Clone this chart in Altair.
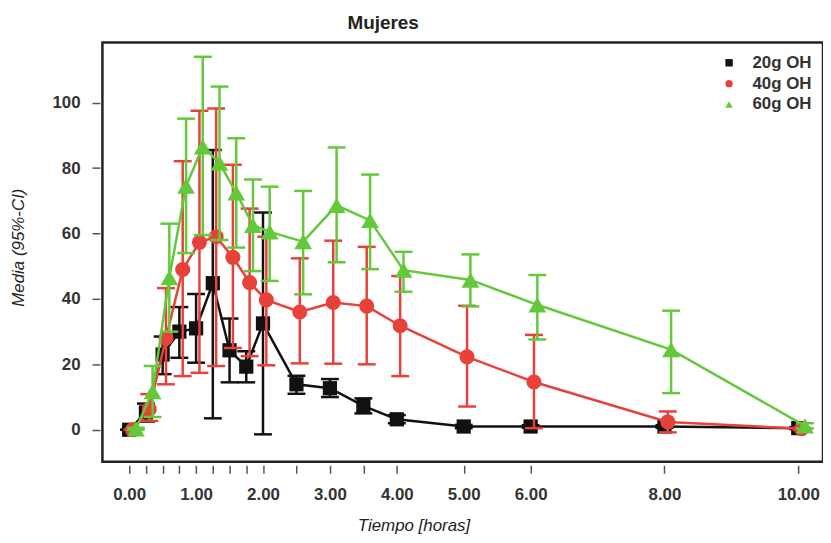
import altair as alt
import pandas as pd

# ---- data ----
times = [0, 0.25, 0.5, 0.75, 1.0, 1.25, 1.5, 1.75, 2.0, 2.5, 3.0, 3.5, 4.0, 5.0, 6.0, 8.0, 10.0]
groups = ["20g OH", "40g OH", "60g OH"]

mean_20 = [0, 5.3, 23, 30, 31, 44.8, 24.3, 19.3, 32.5, 13.9, 12.7, 7.3, 3.2, 1.0, 1.0, 1.0, 0.5]
low_20 = [0, 2.5, 17, 22, 20.5, 3.5, 14.5, 14.5, -1.4, 11, 10, 5, 2, 0.5, 0.6, 0.6, 0.2]
high_20 = [0, 8, 28.5, 37.5, 41.5, 85.5, 34, 24, 66.4, 16.5, 15.5, 9.6, 4.5, 1.5, 1.4, 1.4, 0.8]

mean_40 = [0, 6.3, 28, 49, 57.3, 59, 52.7, 45, 39.7, 36, 38.9, 37.8, 31.8, 22.3, 14.6, 2.4, 0.3]
low_40 = [0, 2.7, 13.9, 16.4, 17.4, 19.5, 25, 22.5, 19.7, 20.3, 20.2, 20, 16.4, 7.1, 0.5, -0.8, 0]
high_40 = [0, 10.9, 43.3, 82.1, 97.5, 98.2, 81, 67.6, 59, 52.4, 57.8, 55.9, 47, 37.9, 29, 5.6, 0.6]

mean_60 = [0.3, 11.7, 46.5, 74.5, 86.5, 81.5, 72.4, 62.5, 60.5, 57.5, 68.6, 64, 48.8, 45.8, 38.2, 24.5, 1.2]
low_60 = [0, 3.9, 30, 54, 59.5, 58, 55.7, 48.5, 45.5, 41.4, 51.2, 49.1, 42.2, 37.7, 27.6, 11.2, 0.4]
high_60 = [0.6, 19.5, 63, 95.1, 114, 104.9, 89.1, 76.5, 74.3, 73, 86.3, 78, 54.4, 53.6, 47.3, 36.4, 2.0]

label_times = [0, 1, 2, 3, 4, 5, 6, 8, 10]
y_ticks = [0, 20, 40, 60, 80, 100]

# ---- styling ----
colors = ["#111111", "#E8413A", "#63C93A"]
shapes = ["square", "circle", "triangle-up"]
sizes = [205, 230, 320]
dodge = [0.0, 0.05, 0.1]  # small horizontal dodge per group (hours)
FONT = "Liberation Sans"

series = [(mean_20, low_20, high_20), (mean_40, low_40, high_40), (mean_60, low_60, high_60)]
rows = []
for g, (m, lo, hi), off in zip(groups, series, dodge):
    for t, a, b, c in zip(times, m, lo, hi):
        rows.append({"grupo": g, "t": t, "tx": t + off, "media": a, "lo": b, "hi": c})
df = pd.DataFrame(rows)

label_list = ",".join(str(v) for v in label_times)
x_axis = alt.Axis(
    values=times, labelExpr=f"indexof([{label_list}], datum.value) >= 0 ? format(datum.value, '.2f') : ''",
    tickSize=8, tickWidth=1.5, tickColor="#555555", domain=False, grid=False, offset=3.5,
    labelFontSize=17, labelFontWeight="bold", labelColor="#333333", labelPadding=13,
    labelOverlap=False, labelFlush=False, labelBound=False,
    title="Tiempo [horas]", titleFontSize=17, titleFontStyle="italic", titleFontWeight="normal",
    titleColor="#222222", titleX=313, titleY=66, titleAlign="center", titleBaseline="alphabetic",
)
y_axis = alt.Axis(
    values=y_ticks, tickSize=8, tickWidth=1.5, tickColor="#555555", domain=False, grid=False, offset=2.5,
    labelFontSize=17, labelFontWeight="bold", labelColor="#333333", labelPadding=12,
    title="Media (95%-CI)", titleFontSize=17, titleFontStyle="italic", titleFontWeight="normal",
    titleColor="#222222", titleX=-77, titleY=206, titleAngle=270, titleAlign="center",
    titleBaseline="alphabetic",
)
xs = alt.Scale(domain=[-0.4, 10.37], nice=False, zero=False)
ys = alt.Scale(domain=[-9.8, 118.4], nice=False, zero=False)

def X():
    return alt.X("tx:Q", scale=xs, axis=x_axis)

def Y(field):
    return alt.Y(f"{field}:Q", scale=ys, axis=y_axis)

layers = []
for i, g in enumerate(groups):
    base = alt.Chart(df).transform_filter(alt.datum.grupo == g)
    rule = base.mark_rule(strokeWidth=2.5, color=colors[i]).encode(x=X(), y=Y("lo"), y2="hi:Q")
    cap_lo = base.mark_tick(orient="horizontal", size=18, thickness=2.5, color=colors[i], opacity=1).encode(
        x=X(), y=Y("lo"))
    cap_hi = base.mark_tick(orient="horizontal", size=18, thickness=2.5, color=colors[i], opacity=1).encode(
        x=X(), y=Y("hi"))
    line = base.mark_line(strokeWidth=2.5, color=colors[i]).encode(x=X(), y=Y("media"), order="t:Q")
    pts = base.mark_point(filled=True, opacity=1, size=sizes[i], strokeWidth=0).encode(
        x=X(), y=Y("media"),
        color=alt.Color("grupo:N", scale=alt.Scale(domain=groups, range=colors), title=None,
                        legend=alt.Legend(orient="none", legendX=622, legendY=12, symbolSize=55,
                                          symbolStrokeWidth=0, labelFontSize=17, labelFontWeight="bold",
                                          labelColor="#333333", rowPadding=3, padding=0, labelOffset=15)),
        shape=alt.Shape("grupo:N", scale=alt.Scale(domain=groups, range=shapes), title=None),
    )
    layers += [rule, cap_lo, cap_hi, line, pts]

chart = alt.layer(*layers).properties(
    width=725, height=422,
    padding={"left": 95, "top": 33, "right": 0, "bottom": 72},
    autosize=alt.AutoSizeParams(type="none"),
    title=alt.TitleParams("Mujeres", fontSize=19, fontWeight="bold", color="#222222", anchor="middle",
                          dx=-80, dy=20, offset=14, baseline="alphabetic", font=FONT),
).configure(font=FONT).configure_view(stroke="#222222", strokeWidth=2.5)

chart.save("out.html", embed_options={"renderer": "svg", "actions": False})
